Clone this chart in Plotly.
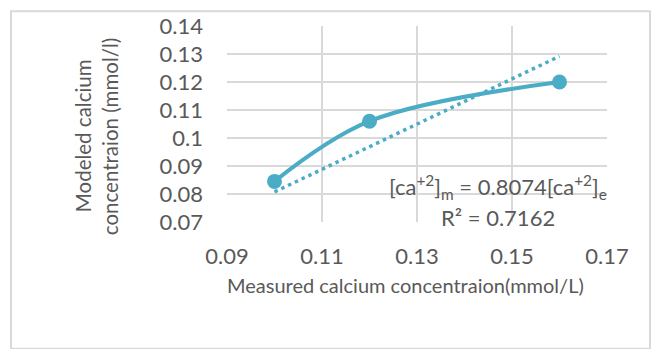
import plotly.graph_objects as go

# Measured vs modeled calcium concentration (mmol/L)
measured = [0.10, 0.12, 0.16]
modeled = [0.0845, 0.106, 0.120]

# Linear trendline forced through the origin
SLOPE = 0.8074
R2 = 0.7162

x_ticks = [0.09, 0.11, 0.13, 0.15, 0.17]
y_ticks = [0.07, 0.08, 0.09, 0.10, 0.11, 0.12, 0.13, 0.14]
y_tick_text = ["0.07", "0.08", "0.09", "0.1", "0.11", "0.12", "0.13", "0.14"]

LINE = "#4BACC6"
GRID = "#D9D9D9"
TEXT = "#595959"
FONT = "Lato"

trend_x = [min(measured), max(measured)]
trend_y = [SLOPE * v for v in trend_x]

fig = go.Figure()
fig.add_trace(go.Scatter(
    x=trend_x, y=trend_y, mode="lines",
    line=dict(color=LINE, width=3.5, dash="3.5px,4px"),
    hoverinfo="skip", showlegend=False,
))
fig.add_trace(go.Scatter(
    x=measured, y=modeled, mode="lines+markers",
    line=dict(color=LINE, width=4, shape="spline", smoothing=1.0),
    marker=dict(color=LINE, size=15),
    showlegend=False,
))

# plot area in pixels
W, H = 653, 349
L, R, T, B = 227, 607, 21, 222


def px(xp):
    return (xp - L) / (R - L)


def py(yp):
    return (B - yp) / (B - T)


fig.update_layout(
    width=W, height=H,
    margin=dict(l=L, r=W - R, t=T, b=H - B, pad=0),
    paper_bgcolor="white", plot_bgcolor="white",
    font=dict(family=FONT, color=TEXT),
    xaxis=dict(
        range=[0.09, 0.17], tickvals=x_ticks, ticktext=[f"{v:.2f}" for v in x_ticks],
        showgrid=True, gridcolor=GRID, gridwidth=2,
        zeroline=False, showline=False,
        tickfont=dict(size=22, color=TEXT), ticks="", ticklabelstandoff=19,
    ),
    yaxis=dict(
        range=[0.07, 0.14], tickvals=y_ticks, ticktext=y_tick_text,
        showgrid=True, gridcolor=GRID, gridwidth=2,
        zeroline=False, showline=False,
        tickfont=dict(size=22, color=TEXT), ticks="", ticklabelstandoff=23,
    ),
    shapes=[
        # outer chart frame
        dict(type="rect", xref="paper", yref="paper",
             x0=px(11), x1=px(650), y0=py(352), y1=py(6),
             line=dict(color=GRID, width=2), fillcolor="rgba(0,0,0,0)", layer="below"),
    ],
    annotations=[
        dict(text="Measured calcium concentraion(mmol/L)", xref="paper", yref="paper",
             x=px(405), y=py(287), showarrow=False, xanchor="center", yanchor="middle",
             font=dict(size=20, color=TEXT, family=FONT)),
        dict(text="Modeled calcium", xref="paper", yref="paper",
             x=px(83), y=py(134), showarrow=False, textangle=-90,
             xanchor="center", yanchor="middle",
             font=dict(size=20.5, color=TEXT, family=FONT)),
        dict(text="concentraion (mmol/l)", xref="paper", yref="paper",
             x=px(110), y=py(134), showarrow=False, textangle=-90,
             xanchor="center", yanchor="middle",
             font=dict(size=20.5, color=TEXT, family=FONT)),
        dict(text=f"[ca<sup>+2</sup>]<sub>m</sub> = {SLOPE:.4f}[ca<sup>+2</sup>]<sub>e</sub>",
             xref="paper", yref="paper", x=px(498), y=py(186), showarrow=False,
             xanchor="center", yanchor="middle",
             font=dict(size=22, color=TEXT, family=FONT)),
        dict(text=f"R² = {R2:.4f}", xref="paper", yref="paper",
             x=px(498), y=py(217), showarrow=False,
             xanchor="center", yanchor="middle",
             font=dict(size=22, color=TEXT, family=FONT)),
    ],
)

fig.write_html("out.html")
